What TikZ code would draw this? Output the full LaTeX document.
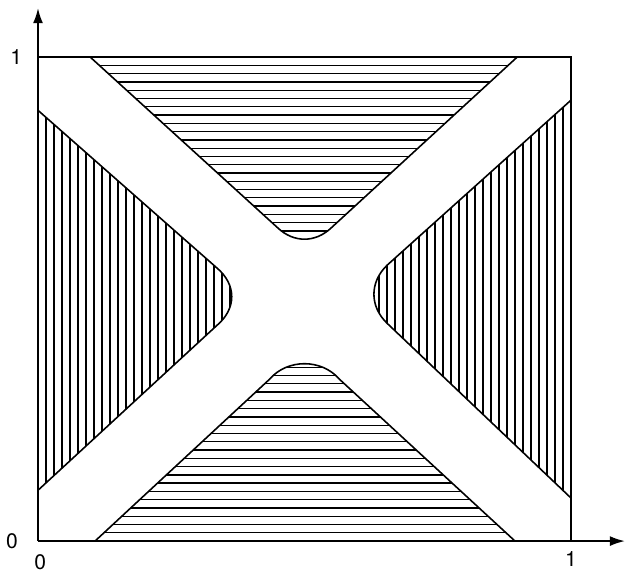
\documentclass[tikz,border=0pt]{standalone}
\usepackage{fontspec}
\setmainfont{TeX Gyre Heros}
\usepackage{tikz}
\usetikzlibrary{arrows.meta}

\newcommand{\topregion}{(0.098,1) -- (0.45,0.647) .. controls (0.48,0.616) and (0.52,0.616) .. (0.55,0.647) -- (0.899,1)}
\newcommand{\botregion}{(0.107,0) -- (0.435,0.335) .. controls (0.468,0.377) and (0.532,0.377) .. (0.565,0.335) -- (0.895,0)}
\newcommand{\leftregion}{(0,0.89) -- (0.335,0.565) .. controls (0.373,0.53) and (0.373,0.48) .. (0.335,0.445) -- (0,0.105)}
\newcommand{\rightregion}{(1,0.911) -- (0.655,0.57) .. controls (0.622,0.535) and (0.622,0.485) .. (0.655,0.45) -- (1,0.089)}

\tikzset{
  hatch/.style={line width=0.75pt},
  edge/.style={line width=0.9pt},
  tick/.style={font=\large, inner sep=1pt}
}

\begin{document}
\begin{tikzpicture}[x=10.66cm, y=9.68cm]
      \useasboundingbox (-0.0713,-0.0661) rectangle (1.107,1.118);
      % hatching
      \begin{scope}
        \clip \topregion -- cycle;
        \foreach \i in {1,...,22} \draw[hatch] (0,1-\i*0.0171) -- (1,1-\i*0.0171);
      \end{scope}
      \begin{scope}
        \clip \botregion -- cycle;
        \foreach \i in {1,...,22} \draw[hatch] (0,\i*0.0171) -- (1,\i*0.0171);
      \end{scope}
      \begin{scope}
        \clip \leftregion -- cycle;
        \foreach \i in {1,...,25} \draw[hatch] (\i*0.015,0) -- (\i*0.015,1);
      \end{scope}
      \begin{scope}
        \clip \rightregion -- cycle;
        \foreach \i in {1,...,25} \draw[hatch] (1-\i*0.015,0) -- (1-\i*0.015,1);
      \end{scope}
      % outlines
      \draw[edge] \topregion;
      \draw[edge] \botregion;
      \draw[edge] \leftregion;
      \draw[edge] \rightregion;
      \draw[edge] (0,1) -- (1,1) -- (1,0);
      % axes
      \coordinate (o) at (0,0);
      \coordinate (ytip) at (0,1.101);
      \coordinate (xtip) at (1.101,0);
      \draw[edge, -{Latex[length=3mm, width=2mm]}] (o) -- (ytip);
      \draw[edge, -{Latex[length=3mm, width=2mm]}] (o) -- (xtip);
      % labels
      \node[tick] (y1) at (-0.041,1) {1};
      \node[tick] (y0) at (-0.049,0) {0};
      \node[tick] (x0) at (0.004,-0.043) {0};
      \node[tick] (x1) at (1,-0.037) {1};
\end{tikzpicture}
\end{document}
